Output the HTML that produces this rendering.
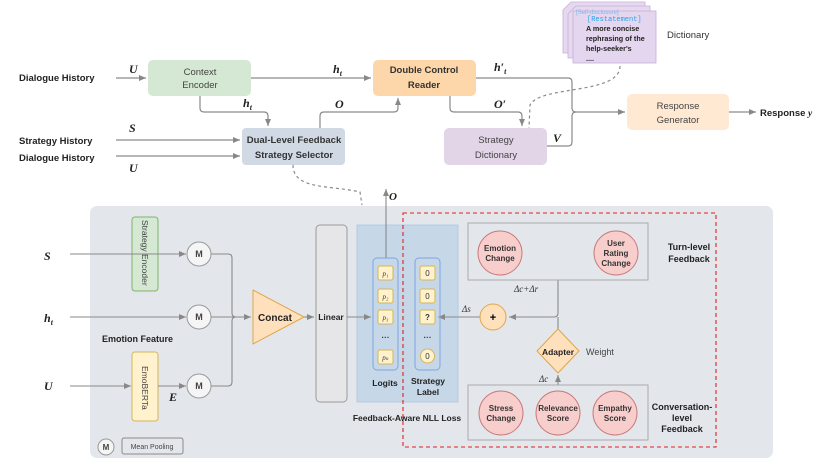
<!DOCTYPE html>
<html><head><meta charset="utf-8"><style>
body{margin:0;background:#fff;}
svg{display:block;font-family:"Liberation Sans",sans-serif;}
.b{font-weight:bold;}
</style></head><body>
<svg width="822" height="460" viewBox="0 0 822 460" xmlns="http://www.w3.org/2000/svg">
<defs>
<marker id="a" markerWidth="8" markerHeight="8" refX="7" refY="4" orient="auto" markerUnits="userSpaceOnUse"><path d="M0,1 L7,4 L0,7 Z" fill="#888"/></marker>
</defs>
<g fill="none" stroke="#8a8a8a" stroke-width="1.2">
<!-- top -->
<path d="M116,78 H146" marker-end="url(#a)"/>
<path d="M251,78 H371" marker-end="url(#a)"/>
<path d="M200,96 V108 Q200,112 204,112 H264 Q268,112 268,116 V126" marker-end="url(#a)"/>
<path d="M320,128 V116 Q320,112 324,112 H394 Q398,112 398,108 V98" marker-end="url(#a)"/>
<path d="M116,140 H240" marker-end="url(#a)"/>
<path d="M116,156 H240" marker-end="url(#a)"/>
<path d="M476,78 H568 Q572,78 572,82 V108 Q572,112 576,112"/>
<path d="M547,146 H568 Q572,146 572,142 V116 Q572,112 576,112"/>
<path d="M576,112 H625" marker-end="url(#a)"/>
<path d="M450,96 V108 Q450,112 454,112 H518 Q522,112 522,116 V126" marker-end="url(#a)"/>
<path d="M729,112 H756" marker-end="url(#a)"/>
<path d="M293,165 C293,190 330,185 360,192 L362,205" stroke-dasharray="3,3"/>
<path d="M620,66 C620,95 540,85 530,105 L529,128" stroke-dasharray="3,3"/>
</g>
<rect x="148" y="60" width="103" height="36" rx="5" fill="#d5e8d4"/>
<text x="200" y="75" font-size="9.5" text-anchor="middle" fill="#444">Context</text>
<text x="200" y="88" font-size="9.5" text-anchor="middle" fill="#444">Encoder</text>
<rect x="373" y="60" width="103" height="36" rx="5" fill="#fdd7a9"/>
<text x="424" y="73" font-size="9.5" text-anchor="middle" class="b" fill="#333">Double Control</text>
<text x="424" y="88" font-size="9.5" text-anchor="middle" class="b" fill="#333">Reader</text>
<rect x="242" y="128" width="103" height="37" rx="4" fill="#d1dae4"/>
<text x="294" y="143" font-size="9.5" text-anchor="middle" class="b" fill="#333">Dual-Level Feedback</text>
<text x="294" y="158" font-size="9.5" text-anchor="middle" class="b" fill="#333">Strategy Selector</text>
<rect x="444" y="128" width="103" height="37" rx="5" fill="#e1d5e7"/>
<text x="496" y="143" font-size="9.5" text-anchor="middle" fill="#444">Strategy</text>
<text x="496" y="158" font-size="9.5" text-anchor="middle" fill="#444">Dictionary</text>
<rect x="627" y="94" width="102" height="36" rx="5" fill="#ffe9d2"/>
<text x="678" y="109" font-size="9.5" text-anchor="middle" fill="#444">Response</text>
<text x="678" y="123" font-size="9.5" text-anchor="middle" fill="#444">Generator</text>
<g font-size="9.5" class="b" fill="#222">
<text x="19" y="81">Dialogue History</text>
<text x="19" y="144">Strategy History</text>
<text x="19" y="161">Dialogue History</text>
<text x="760" y="116">Response <tspan font-family="Liberation Serif" font-style="italic">y</tspan></text>
</g>
<g font-family="Liberation Serif" font-style="italic" font-weight="bold" font-size="12" fill="#222">
<text x="129" y="73">U</text><text x="129" y="132">S</text><text x="129" y="172">U</text>
<text x="333" y="73">h<tspan font-size="8" dy="3">t</tspan></text>
<text x="243" y="107">h<tspan font-size="8" dy="3">t</tspan></text>
<text x="335" y="108">O</text>
<text x="494" y="71">h′<tspan font-size="8" dy="3">t</tspan></text>
<text x="494" y="108">O′</text>
<text x="553" y="142">V</text>
</g>
<!-- dictionary pages -->
<path d="M571,2 H645 V53 H563 V10 Z" fill="#e6d9ef" stroke="#c9aedb" stroke-width="0.8"/>
<path d="M576,6 H650 V58 H568 V14 Z" fill="#e6d9ef" stroke="#c9aedb" stroke-width="0.8"/>
<rect x="573" y="11" width="83" height="52" fill="#e4d6ee" stroke="#c9aedb" stroke-width="0.8"/>
<text x="576" y="14" font-size="6" fill="#7fb7e8">[Self-disclosure]</text>
<text x="587" y="21" font-size="7" fill="#2aa0e8" font-family="Liberation Mono">[Restatement]</text>
<g font-size="7.2" class="b" fill="#222"><text x="586" y="31">A more concise</text><text x="586" y="41">rephrasing of the</text><text x="586" y="51">help-seeker's</text><text x="586" y="61">....</text></g>
<text x="667" y="38" font-size="9.5" fill="#333">Dictionary</text>
<!-- bottom panel -->
<rect x="90" y="206" width="683" height="252" rx="7" fill="#e3e7ec"/>
<rect x="357" y="225" width="101" height="177" fill="#c6d7e8" stroke="#b3cbe3"/>
<rect x="316" y="225" width="31" height="177" rx="4" fill="#e6e6e8" stroke="#999"/>
<rect x="132" y="217" width="26" height="74" rx="3" fill="#d5e8d4" stroke="#82b366"/>
<rect x="132" y="352" width="26" height="69" rx="3" fill="#fff2cc" stroke="#d6b656"/>
<text transform="translate(142,220) rotate(90)" font-size="8.5" fill="#444">Strategy Encoder</text>
<text transform="translate(142,366) rotate(90)" font-size="8.5" fill="#444">EmoBERTa</text>
<g fill="none" stroke="#8a8a8a" stroke-width="1.1">
<path d="M70,254 H186" marker-end="url(#a)"/>
<path d="M70,317 H186" marker-end="url(#a)"/>
<path d="M70,386 H131" marker-end="url(#a)"/>
<path d="M158,386 H186" marker-end="url(#a)"/>
<path d="M211,254 H228 Q232,254 232,258 V313 Q232,317 236,317 M211,317 H236 M211,386 H228 Q232,386 232,382 V321 Q232,317 236,317 H251" marker-end="url(#a)"/>
<path d="M304,317 H314" marker-end="url(#a)"/>
<path d="M347,317 H371" marker-end="url(#a)"/>
<path d="M386,258 V189" marker-end="url(#a)"/>
<path d="M558,280 V313 Q558,317 554,317 H509" marker-end="url(#a)"/>
<path d="M558,329 V317"/>
<path d="M480,317 H438" marker-end="url(#a)"/>
<path d="M558,385 V375" marker-end="url(#a)"/>
</g>
<g fill="#f5f5f5" stroke="#999"><circle cx="199" cy="254" r="12"/><circle cx="199" cy="317" r="12"/><circle cx="199" cy="386" r="12"/><circle cx="106" cy="447" r="8"/></g>
<g font-size="9" class="b" fill="#444" text-anchor="middle"><text x="199" y="257">M</text><text x="199" y="320">M</text><text x="199" y="389">M</text><text x="106" y="450" font-size="8">M</text></g>
<rect x="122" y="438" width="61" height="16" rx="2" fill="#e3e7ec" stroke="#888"/>
<text x="152" y="449" font-size="7" text-anchor="middle" fill="#444">Mean Pooling</text>
<path d="M253,290 L304,317 L253,344 Z" fill="#ffe0bd" stroke="#e0a64a" stroke-linejoin="round"/>
<text x="275" y="321" font-size="10" class="b" text-anchor="middle" fill="#222">Concat</text>
<text x="331" y="320" font-size="8.5" class="b" text-anchor="middle" fill="#222">Linear</text>
<text x="102" y="342" font-size="9" class="b" fill="#222">Emotion Feature</text>
<g font-family="Liberation Serif" font-style="italic" font-weight="bold" font-size="12" fill="#222">
<text x="44" y="260">S</text><text x="44" y="322">h<tspan font-size="8" dy="3">t</tspan></text><text x="44" y="390">U</text>
<text x="169" y="401">E</text><text x="389" y="200" font-size="11">O</text>
</g>
<rect x="373" y="258" width="25" height="112" rx="4" fill="none" stroke="#7ea6e0"/>
<rect x="415" y="258" width="25" height="112" rx="4" fill="none" stroke="#7ea6e0"/>
<g fill="#fff2cc" stroke="#d6b656">
<rect x="378" y="266" width="15" height="14" rx="2"/><rect x="378" y="289" width="15" height="14" rx="2"/><rect x="378" y="310" width="15" height="14" rx="2"/><rect x="378" y="350" width="15" height="14" rx="2"/>
<rect x="420" y="266" width="15" height="14" rx="2"/><rect x="420" y="289" width="15" height="14" rx="2"/><rect x="420" y="310" width="15" height="14" rx="2"/><circle cx="427.5" cy="356" r="7"/>
</g>
<g font-size="7" text-anchor="middle" fill="#333" font-family="Liberation Serif" font-style="italic">
<text x="385.5" y="276">p₁</text><text x="385.5" y="299">p₂</text><text x="385.5" y="320">p₃</text><text x="385.5" y="360">pₖ</text>
</g>
<g font-size="8" text-anchor="middle" fill="#333">
<text x="427.5" y="276">0</text><text x="427.5" y="299">0</text><text x="427.5" y="320" class="b">?</text><text x="427.5" y="359">0</text>
<text x="385.5" y="340" class="b">···</text><text x="427.5" y="340" class="b">···</text>
</g>
<g font-size="8.5" class="b" fill="#222" text-anchor="middle">
<text x="385" y="386">Logits</text><text x="428" y="384">Strategy</text><text x="428" y="395">Label</text>
<text x="407" y="421">Feedback-Aware NLL Loss</text>
</g>
<rect x="403" y="213" width="313" height="234" fill="none" stroke="#e02020" stroke-width="1.1" stroke-dasharray="4,3"/>
<rect x="468" y="223" width="180" height="57" fill="#e3e7ec" stroke="#aaa"/>
<rect x="468" y="385" width="180" height="55" fill="#e3e7ec" stroke="#aaa"/>
<g fill="#f8cecc" stroke="#c97a7a">
<circle cx="500" cy="253" r="22"/><circle cx="616" cy="253" r="22"/>
<circle cx="501" cy="413" r="22"/><circle cx="558" cy="413" r="22"/><circle cx="615" cy="413" r="22"/>
</g>
<g font-size="8" class="b" fill="#333" text-anchor="middle">
<text x="500" y="251">Emotion</text><text x="500" y="261">Change</text>
<text x="616" y="246">User</text><text x="616" y="256">Rating</text><text x="616" y="266">Change</text>
<text x="501" y="411">Stress</text><text x="501" y="421">Change</text>
<text x="558" y="411">Relevance</text><text x="558" y="421">Score</text>
<text x="615" y="411">Empathy</text><text x="615" y="421">Score</text>
</g>
<g font-size="9" class="b" fill="#222" text-anchor="middle">
<text x="689" y="250">Turn-level</text><text x="689" y="262">Feedback</text>
<text x="682" y="410">Conversation-</text><text x="682" y="421">level</text><text x="682" y="432">Feedback</text>
</g>
<circle cx="493" cy="317" r="13" fill="#ffe0bd" stroke="#e0a64a"/>
<text x="493" y="321" font-size="11" class="b" text-anchor="middle">+</text>
<path d="M558,329 L579,351 L558,373 L537,351 Z" fill="#ffe0bd" stroke="#e0a64a" stroke-linejoin="round"/>
<text x="558" y="355" font-size="8.5" class="b" text-anchor="middle" fill="#222">Adapter</text>
<text x="586" y="355" font-size="9" fill="#444">Weight</text>
<g font-family="Liberation Serif" font-style="italic" font-size="9" fill="#333">
<text x="514" y="292">Δc+Δr</text><text x="462" y="312">Δs</text><text x="539" y="382">Δc</text>
</g>
</svg>
</body></html>
